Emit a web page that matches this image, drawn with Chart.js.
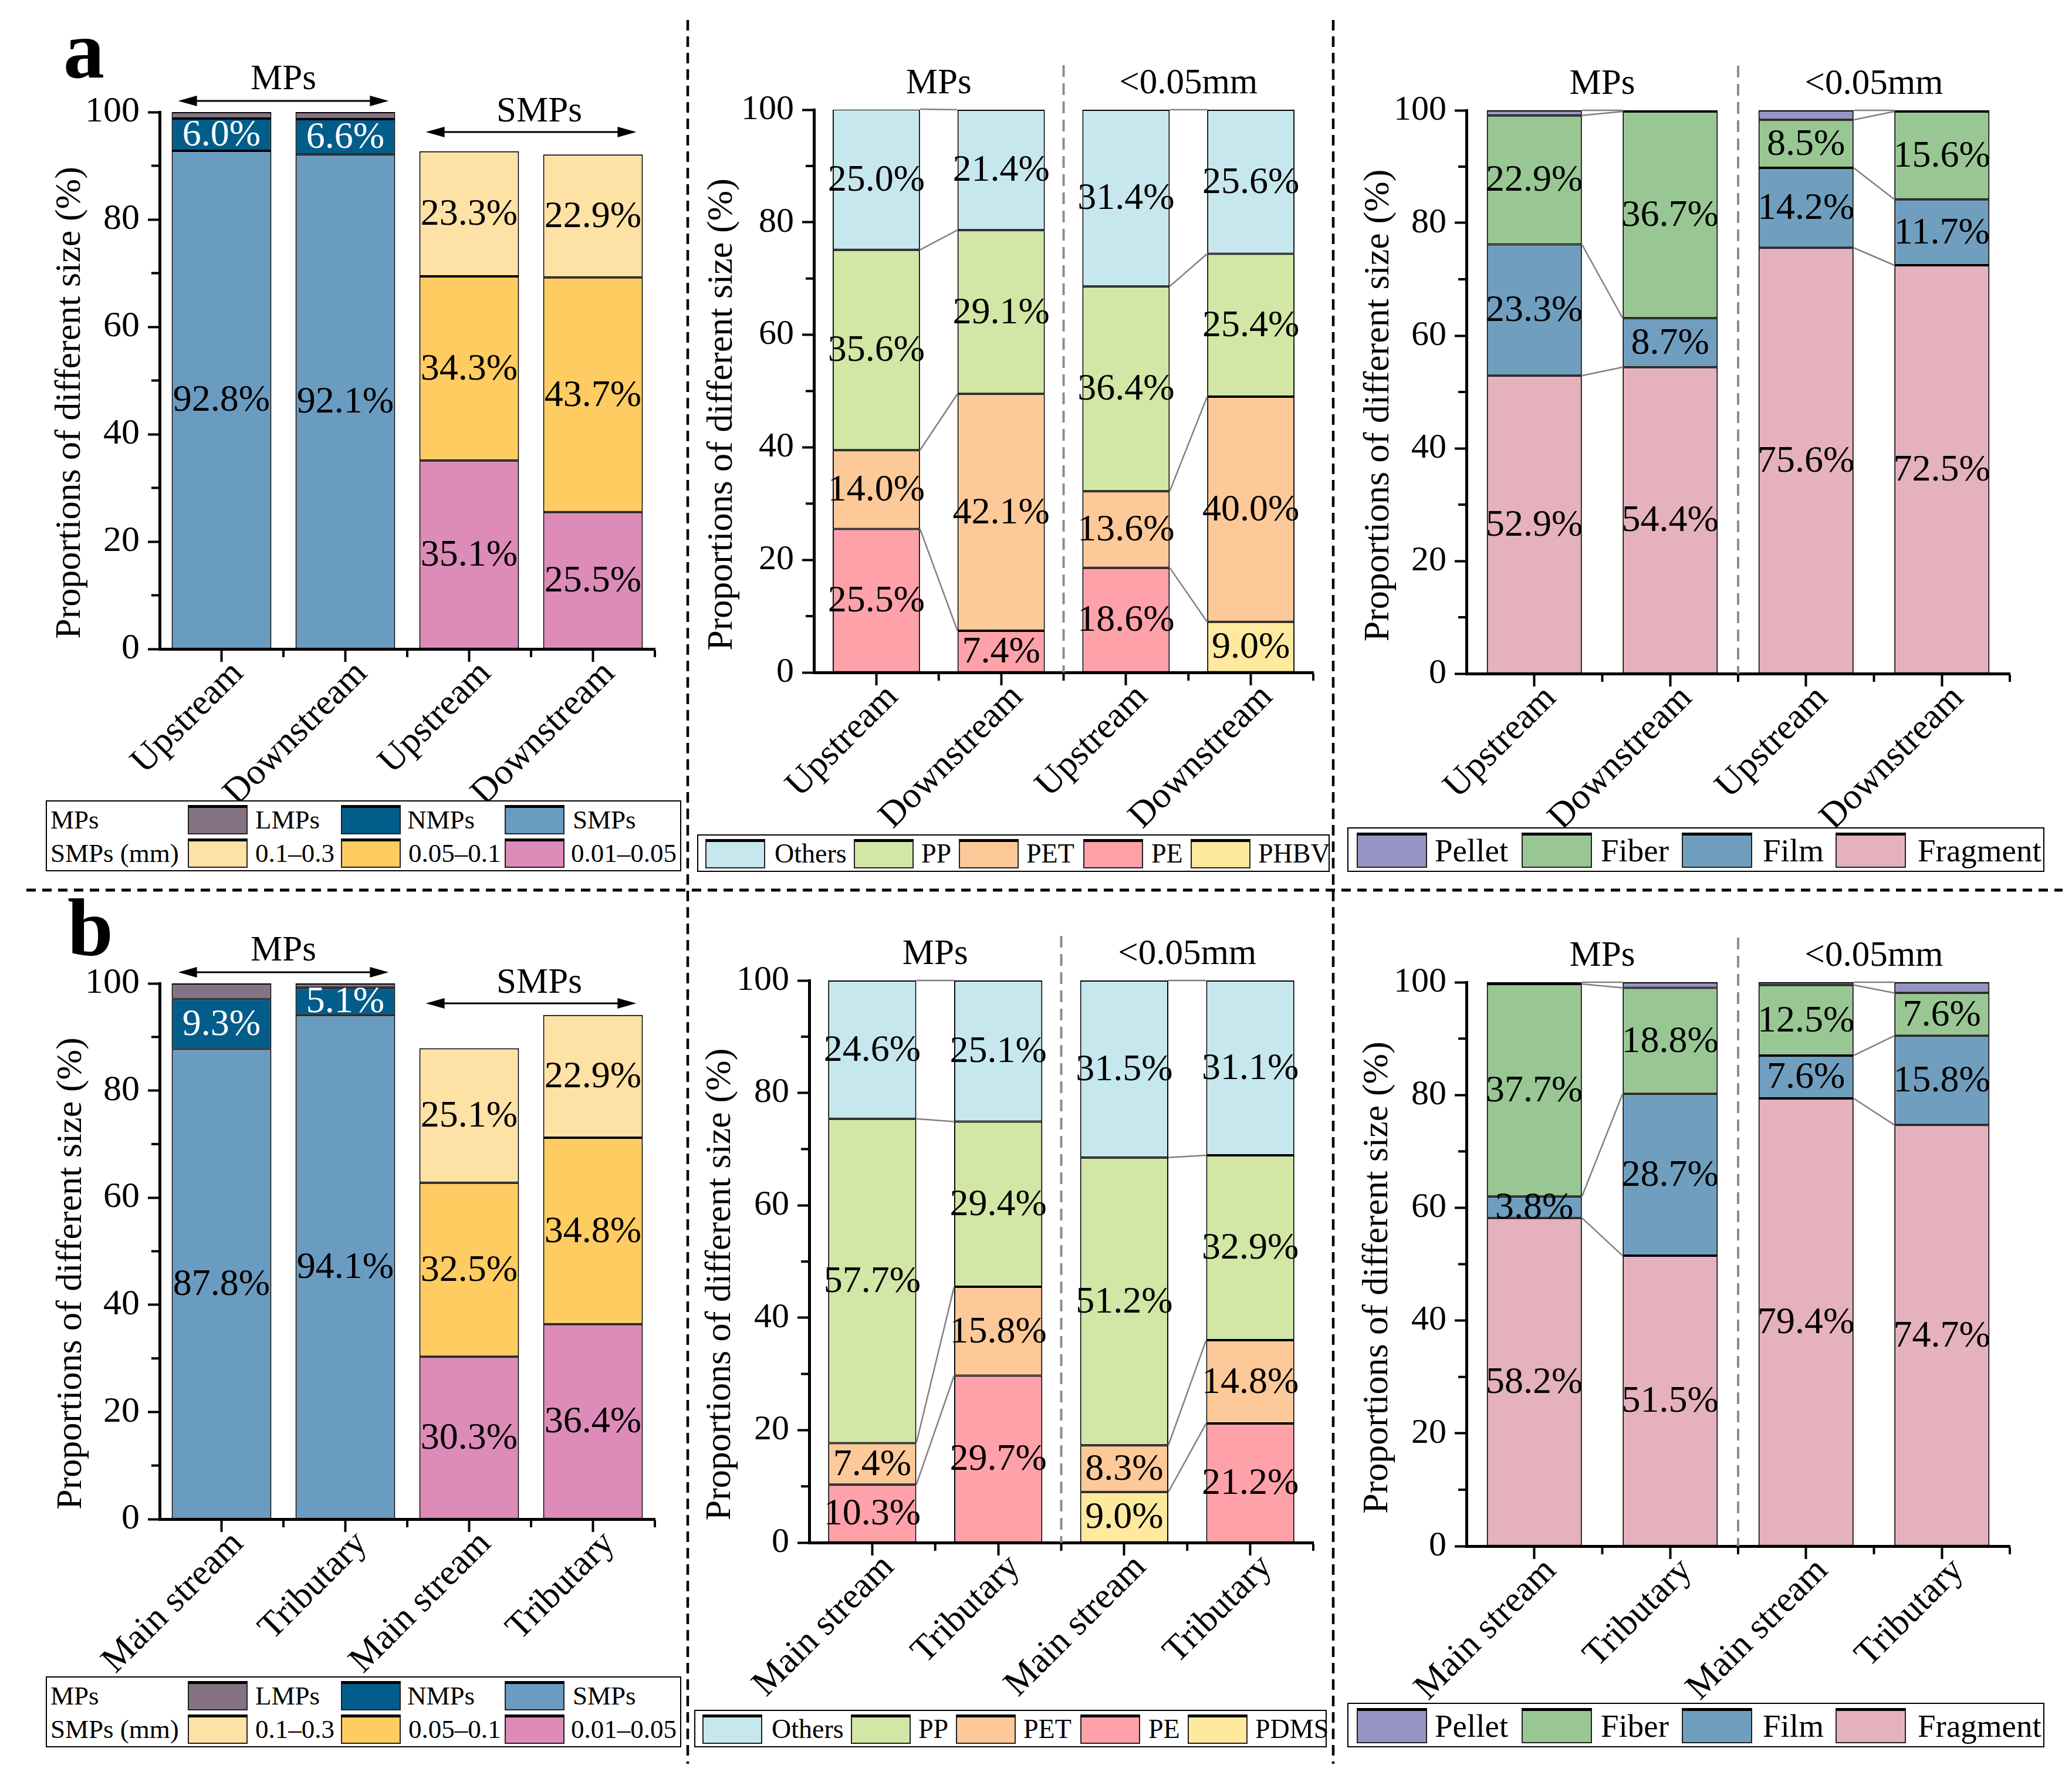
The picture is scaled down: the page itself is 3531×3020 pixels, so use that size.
<!DOCTYPE html>
<html lang="en">
<head>
<meta charset="utf-8">
<title>Proportions of different size</title>
<script src="https://cdn.jsdelivr.net/npm/chart.js@4.4.1/dist/chart.umd.min.js"></script>
<style>
  body { margin: 0; background: #fff; }
  #page { position: relative; width: 3531px; height: 3020px; overflow: hidden; font-family: 'Liberation Serif', 'Times New Roman', serif; }
  #page canvas { position: absolute; }
  .legend { position: absolute; border: 2px solid #000; background: #fff; box-sizing: border-box; }
  .legend span { position: absolute; white-space: nowrap; line-height: 1; transform: translateY(-50%); }
  .legend i { position: absolute; box-sizing: border-box; border: 2px solid #222; border-top: 5px solid #000; }
  .letter { position: absolute; font-weight: bold; font-size: 140px; line-height: 1; }
</style>
</head>
<body>
<div id="page">
  <svg width="3531" height="3020" style="position:absolute;left:0;top:0">
    <line x1="1172" y1="34" x2="1172" y2="3006" stroke="#000" stroke-width="4.5" stroke-dasharray="18 10"/>
    <line x1="2272" y1="34" x2="2272" y2="3006" stroke="#000" stroke-width="4.5" stroke-dasharray="18 10"/>
    <line x1="45" y1="1517" x2="3515" y2="1517" stroke="#000" stroke-width="5" stroke-dasharray="16 11"/>
  </svg>
  <div class="letter" style="left:108px;top:15px">a</div>
  <div class="letter" style="left:115px;top:1511px">b</div>
</div>
<script>
// ---- data ----
var flowA = ['Upstream', 'Downstream', 'Upstream', 'Downstream'];
var flowB = ['Main stream', 'Tributary', 'Main stream', 'Tributary'];
var sizeGroups = ['MPs', 'SMPs'];
var typeGroups = ['MPs', '<0.05mm'];
var yTitle = 'Proportions of different size (%)';

// (a) size
var aLMPs = [1.2, 1.3, null, null];
var aNMPs = [6.0, 6.6, null, null];
var aSMPs = [92.8, 92.1, null, null];
var aS001 = [null, null, 35.1, 25.5];
var aS005 = [null, null, 34.3, 43.7];
var aS01 = [null, null, 23.3, 22.9];
// (a) polymer
var aPE = [25.5, 7.4, 18.6, null];
var aPHBV = [null, null, null, 9.0];
var aPET = [14.0, 42.1, 13.6, 40.0];
var aPP = [35.6, 29.1, 36.4, 25.4];
var aOthers = [25.0, 21.4, 31.4, 25.6];
// (a) shape
var aFragment = [52.9, 54.4, 75.6, 72.5];
var aFilm = [23.3, 8.7, 14.2, 11.7];
var aFiber = [22.9, 36.7, 8.5, 15.6];
var aPellet = [0.9, 0.2, 1.7, 0.2];

// (b) size
var bLMPs = [2.9, 0.8, null, null];
var bNMPs = [9.3, 5.1, null, null];
var bSMPs = [87.8, 94.1, null, null];
var bS001 = [null, null, 30.3, 36.4];
var bS005 = [null, null, 32.5, 34.8];
var bS01 = [null, null, 25.1, 22.9];
// (b) polymer
var bPE = [10.3, 29.7, null, 21.2];
var bPDMS = [null, null, 9.0, null];
var bPET = [7.4, 15.8, 8.3, 14.8];
var bPP = [57.7, 29.4, 51.2, 32.9];
var bOthers = [24.6, 25.1, 31.5, 31.1];
// (b) shape
var bFragment = [58.2, 51.5, 79.4, 74.7];
var bFilm = [3.8, 28.7, 7.6, 15.8];
var bFiber = [37.7, 18.8, 12.5, 7.6];
var bPellet = [0.3, 1.0, 0.5, 1.9];

var C = {
  LMPs: '#857384', NMPs: '#035D8A', SMPs: '#6A9BC1',
  s01: '#FEE1A5', s005: '#FECC60', s001: '#DD8BB8',
  Others: '#C7E7EE', PP: '#D2E6A5', PET: '#FEC998', PE: '#FEA1A9', PX: '#FEE99F',
  Pellet: '#9694C3', Fiber: '#99C794', Film: '#709EBF', Fragment: '#E5B1BC'
};

var fam = "'Liberation Serif', 'Times New Roman', serif";
Chart.defaults.font.family = fam;
Chart.defaults.color = '#000';

function cumAt(chart, i, k) {
  var s = 0;
  for (var d = 0; d <= k; d++) {
    var v = chart.data.datasets[d].data[i];
    if (v != null) s += v;
  }
  return s;
}

function arrow(ctx, x0, x1, y) {
  ctx.beginPath(); ctx.moveTo(x0 + 20, y); ctx.lineTo(x1 - 20, y); ctx.stroke();
  ctx.beginPath(); ctx.moveTo(x0, y); ctx.lineTo(x0 + 32, y - 9); ctx.lineTo(x0 + 32, y + 9); ctx.fill();
  ctx.beginPath(); ctx.moveTo(x1, y); ctx.lineTo(x1 - 32, y - 9); ctx.lineTo(x1 - 32, y + 9); ctx.fill();
}

var decor = {
  id: 'decor',
  afterDatasetsDraw: function (chart, args, o) {
    var ctx = chart.ctx, xs = chart.scales.x, ys = chart.scales.y, a = chart.chartArea;
    var cw = (a.right - a.left) / chart.data.labels.length;
    var half = cw * o.barPct / 2;
    ctx.save();
    if (o.connect) {
      ctx.strokeStyle = '#808080';
      ctx.lineWidth = 2.5;
      [[0, 1], [2, 3]].forEach(function (p) {
        o.connect.forEach(function (k) {
          ctx.beginPath();
          ctx.moveTo(xs.getPixelForValue(p[0]) + half, ys.getPixelForValue(cumAt(chart, p[0], k)));
          ctx.lineTo(xs.getPixelForValue(p[1]) - half, ys.getPixelForValue(cumAt(chart, p[1], k)));
          ctx.stroke();
        });
      });
    }
    ctx.font = '64px ' + fam;
    ctx.textAlign = 'center';
    ctx.textBaseline = 'middle';
    chart.data.datasets.forEach(function (ds, d) {
      if (!ds.textColor) return;
      chart.getDatasetMeta(d).data.forEach(function (el, i) {
        if (ds.data[i] == null) return;
        ctx.fillStyle = ds.textColor;
        ctx.fillText(ds.data[i].toFixed(1) + '%', el.x, (el.y + el.base) / 2 + 2);
      });
    });
    ctx.restore();
  },
  afterDraw: function (chart, args, o) {
    var ctx = chart.ctx, xs = chart.scales.x, ys = chart.scales.y, a = chart.chartArea;
    var n = chart.data.labels.length, cw = (a.right - a.left) / n;
    ctx.save();
    // minor ticks
    ctx.strokeStyle = '#000';
    ctx.lineWidth = 4;
    for (var v = 10; v < 100; v += 20) {
      var py = ys.getPixelForValue(v);
      ctx.beginPath(); ctx.moveTo(a.left - 2, py); ctx.lineTo(a.left - 14, py); ctx.stroke();
    }
    for (var k = 1; k <= n; k++) {
      var px = a.left + k * cw;
      ctx.beginPath(); ctx.moveTo(px, a.bottom + 2); ctx.lineTo(px, a.bottom + 14); ctx.stroke();
    }
    ctx.fillStyle = '#000';
    ctx.textAlign = 'center';
    ctx.textBaseline = 'middle';
    // y axis title
    ctx.save();
    ctx.font = '62px ' + fam;
    ctx.translate(o.titleX, (a.top + a.bottom) / 2 + o.titleOff);
    ctx.rotate(-Math.PI / 2);
    ctx.fillText(o.title, 0, 0);
    ctx.restore();
    if (o.split) {
      var sx = a.left + 2 * cw;
      ctx.setLineDash([20, 11]);
      ctx.strokeStyle = '#8c8c8c';
      ctx.beginPath(); ctx.moveTo(sx, a.top - 76); ctx.lineTo(sx, a.bottom); ctx.stroke();
      ctx.setLineDash([]);
      ctx.font = '61px ' + fam;
      o.groups.forEach(function (t, g) {
        var cx = (xs.getPixelForValue(2 * g) + xs.getPixelForValue(2 * g + 1)) / 2;
        ctx.fillText(t, cx, a.top - 44);
      });
    } else {
      ctx.font = '61px ' + fam;
      ctx.lineWidth = 3;
      var place = [[-55, -19], [0, 34]];
      o.groups.forEach(function (t, g) {
        var c0 = xs.getPixelForValue(2 * g), c1 = xs.getPixelForValue(2 * g + 1);
        ctx.fillText(t, (c0 + c1) / 2 + (g ? 14 : 0), a.top + place[g][0]);
        arrow(ctx, c0 - cw * 0.35, c1 + cw * 0.35, a.top + place[g][1]);
      });
    }
    ctx.restore();
  }
};

function panel(p) {
  var cv = document.createElement('canvas');
  cv.width = p.box.w; cv.height = p.box.h;
  cv.style.left = p.box.x + 'px'; cv.style.top = p.box.y + 'px';
  cv.style.width = p.box.w + 'px'; cv.style.height = p.box.h + 'px';
  document.getElementById('page').appendChild(cv);
  p.sets.forEach(function (s) {
    s.borderColor = '#000'; s.borderWidth = 2; s.borderSkipped = false;
  });
  return new Chart(cv.getContext('2d'), {
    type: 'bar',
    data: { labels: p.labels, datasets: p.sets },
    options: {
      responsive: false, animation: false, devicePixelRatio: 1,
      categoryPercentage: 1, barPercentage: p.barPct,
      layout: { padding: { left: 0, top: p.area.t - p.box.y, right: p.box.x + p.box.w - p.area.r, bottom: 0 } },
      plugins: {
        legend: { display: false }, tooltip: { enabled: false },
        decor: { barPct: p.barPct, connect: p.connect, split: p.split, groups: p.groups,
                 title: yTitle, titleX: p.titleX - p.box.x, titleOff: p.titleOff }
      },
      scales: {
        x: {
          stacked: true,
          afterFit: function (s) { s.height = p.box.y + p.box.h - p.area.b; },
          grid: { offset: false, drawOnChartArea: false, tickLength: 22, tickWidth: 4, tickColor: '#000' },
          border: { color: '#000', width: 5 },
          ticks: { autoSkip: false, minRotation: 45, maxRotation: 45, labelOffset: 28, padding: -16, font: { size: 62 } }
        },
        y: {
          stacked: true, min: 0, max: 100,
          afterFit: function (s) { s.width = p.area.l - p.box.x; },
          grid: { drawOnChartArea: false, tickLength: 20, tickWidth: 4, tickColor: '#000' },
          border: { color: '#000', width: 5 },
          ticks: { stepSize: 20, padding: 14, font: { size: p.tick } }
        }
      }
    },
    plugins: [decor]
  });
}

function sizeSets(L, N, S, s1, s2, s3) {
  return [
    { label: 'SMPs', data: S, backgroundColor: C.SMPs, textColor: '#000' },
    { label: 'NMPs', data: N, backgroundColor: C.NMPs, textColor: '#fff' },
    { label: 'LMPs', data: L, backgroundColor: C.LMPs },
    { label: '0.01–0.05', data: s1, backgroundColor: C.s001, textColor: '#000' },
    { label: '0.05–0.1', data: s2, backgroundColor: C.s005, textColor: '#000' },
    { label: '0.1–0.3', data: s3, backgroundColor: C.s01, textColor: '#000' }
  ];
}
function polySets(pe, px, pxName, pet, pp, oth) {
  return [
    { label: 'PE', data: pe, backgroundColor: C.PE, textColor: '#000' },
    { label: pxName, data: px, backgroundColor: C.PX, textColor: '#000' },
    { label: 'PET', data: pet, backgroundColor: C.PET, textColor: '#000' },
    { label: 'PP', data: pp, backgroundColor: C.PP, textColor: '#000' },
    { label: 'Others', data: oth, backgroundColor: C.Others, textColor: '#000' }
  ];
}
function shapeSets(fr, fi, fb, pl) {
  return [
    { label: 'Fragment', data: fr, backgroundColor: C.Fragment, textColor: '#000' },
    { label: 'Film', data: fi, backgroundColor: C.Film, textColor: '#000' },
    { label: 'Fiber', data: fb, backgroundColor: C.Fiber, textColor: '#000' },
    { label: 'Pellet', data: pl, backgroundColor: C.Pellet }
  ];
}

panel({ box: { x: 0, y: 0, w: 1160, h: 1420 }, area: { l: 272, r: 1116, t: 191, b: 1106 }, tick: 62, titleX: 120, titleOff: 38,
  labels: flowA, barPct: 0.805, groups: sizeGroups, split: false,
  sets: sizeSets(aLMPs, aNMPs, aSMPs, aS001, aS005, aS01) });
panel({ box: { x: 1175, y: 0, w: 1095, h: 1420 }, area: { l: 1387, r: 2238, t: 187, b: 1146 }, tick: 60, titleX: 1231, titleOff: 40,
  labels: flowA, barPct: 0.70, groups: typeGroups, split: true, connect: [1, 2, 3, 4],
  sets: polySets(aPE, aPHBV, 'PHBV', aPET, aPP, aOthers) });
panel({ box: { x: 2280, y: 0, w: 1251, h: 1420 }, area: { l: 2499, r: 3425, t: 188, b: 1148 }, tick: 60, titleX: 2350, titleOff: 23,
  labels: flowA, barPct: 0.70, groups: typeGroups, split: true, connect: [0, 1, 2, 3],
  sets: shapeSets(aFragment, aFilm, aFiber, aPellet) });
panel({ box: { x: 0, y: 1525, w: 1160, h: 1400 }, area: { l: 272, r: 1116, t: 1676, b: 2589 }, tick: 62, titleX: 122, titleOff: 38,
  labels: flowB, barPct: 0.805, groups: sizeGroups, split: false,
  sets: sizeSets(bLMPs, bNMPs, bSMPs, bS001, bS005, bS01) });
panel({ box: { x: 1175, y: 1525, w: 1095, h: 1400 }, area: { l: 1379, r: 2238, t: 1671, b: 2629 }, tick: 60, titleX: 1228, titleOff: 39,
  labels: flowB, barPct: 0.70, groups: typeGroups, split: true, connect: [1, 2, 3, 4],
  sets: polySets(bPE, bPDMS, 'PDMS', bPET, bPP, bOthers) });
panel({ box: { x: 2280, y: 1525, w: 1251, h: 1400 }, area: { l: 2499, r: 3425, t: 1674, b: 2635 }, tick: 60, titleX: 2348, titleOff: 23,
  labels: flowB, barPct: 0.70, groups: typeGroups, split: true, connect: [0, 1, 2, 3],
  sets: shapeSets(bFragment, bFilm, bFiber, bPellet) });

// ---- legends ----
function legend(box, font, sw, rows) {
  var d = document.createElement('div');
  d.className = 'legend';
  d.style.cssText = 'left:' + box.x + 'px;top:' + box.y + 'px;width:' + box.w + 'px;height:' + box.h + 'px;font-size:' + font + 'px';
  rows.forEach(function (r) {
    var cy = r.y + sw.h / 2;
    if (r.head) d.insertAdjacentHTML('beforeend', '<span style="left:6px;top:' + cy + 'px">' + r.head + '</span>');
    r.items.forEach(function (it, j) {
      d.insertAdjacentHTML('beforeend',
        '<i style="left:' + r.sx[j] + 'px;top:' + r.y + 'px;width:' + sw.w + 'px;height:' + sw.h + 'px;background:' + it[1] + '"></i>' +
        '<span style="left:' + r.tx[j] + 'px;top:' + cy + 'px">' + it[0] + '</span>');
    });
  });
  document.getElementById('page').appendChild(d);
}
var mpItems = [['LMPs', C.LMPs], ['NMPs', C.NMPs], ['SMPs', C.SMPs]];
var smpItems = [['0.1–0.3', C.s01], ['0.05–0.1', C.s005], ['0.01–0.05', C.s001]];
var shapeItems = [['Pellet', C.Pellet], ['Fiber', C.Fiber], ['Film', C.Film], ['Fragment', C.Fragment]];
function sizeLegend(y) {
  legend({ x: 78, y: y, w: 1083, h: 121 }, 45, { w: 102, h: 50 }, [
    { head: 'MPs', y: 6, items: mpItems, sx: [240, 501, 780], tx: [355, 614, 896] },
    { head: 'SMPs (mm)', y: 63, items: smpItems, sx: [240, 501, 780], tx: [355, 616, 893] }
  ]);
}
function polyLegend(x, y, extra) {
  legend({ x: x, y: y, w: 1078, h: 64 }, 46, { w: 102, h: 50 }, [
    { y: 6, items: [['Others', C.Others], ['PP', C.PP], ['PET', C.PET], ['PE', C.PE], [extra, C.PX]],
      sx: [12, 265, 444, 656, 839], tx: [130, 380, 559, 772, 954] }
  ]);
}
function shapeLegend(y) {
  legend({ x: 2296, y: y, w: 1188, h: 76 }, 55, { w: 120, h: 60 }, [
    { y: 7, items: shapeItems, sx: [14, 295, 568, 830], tx: [147, 430, 706, 970] }
  ]);
}
sizeLegend(1364); polyLegend(1188, 1422, 'PHBV'); shapeLegend(1410);
sizeLegend(2857); polyLegend(1183, 2914, 'PDMS'); shapeLegend(2902);
</script>
</body>
</html>
